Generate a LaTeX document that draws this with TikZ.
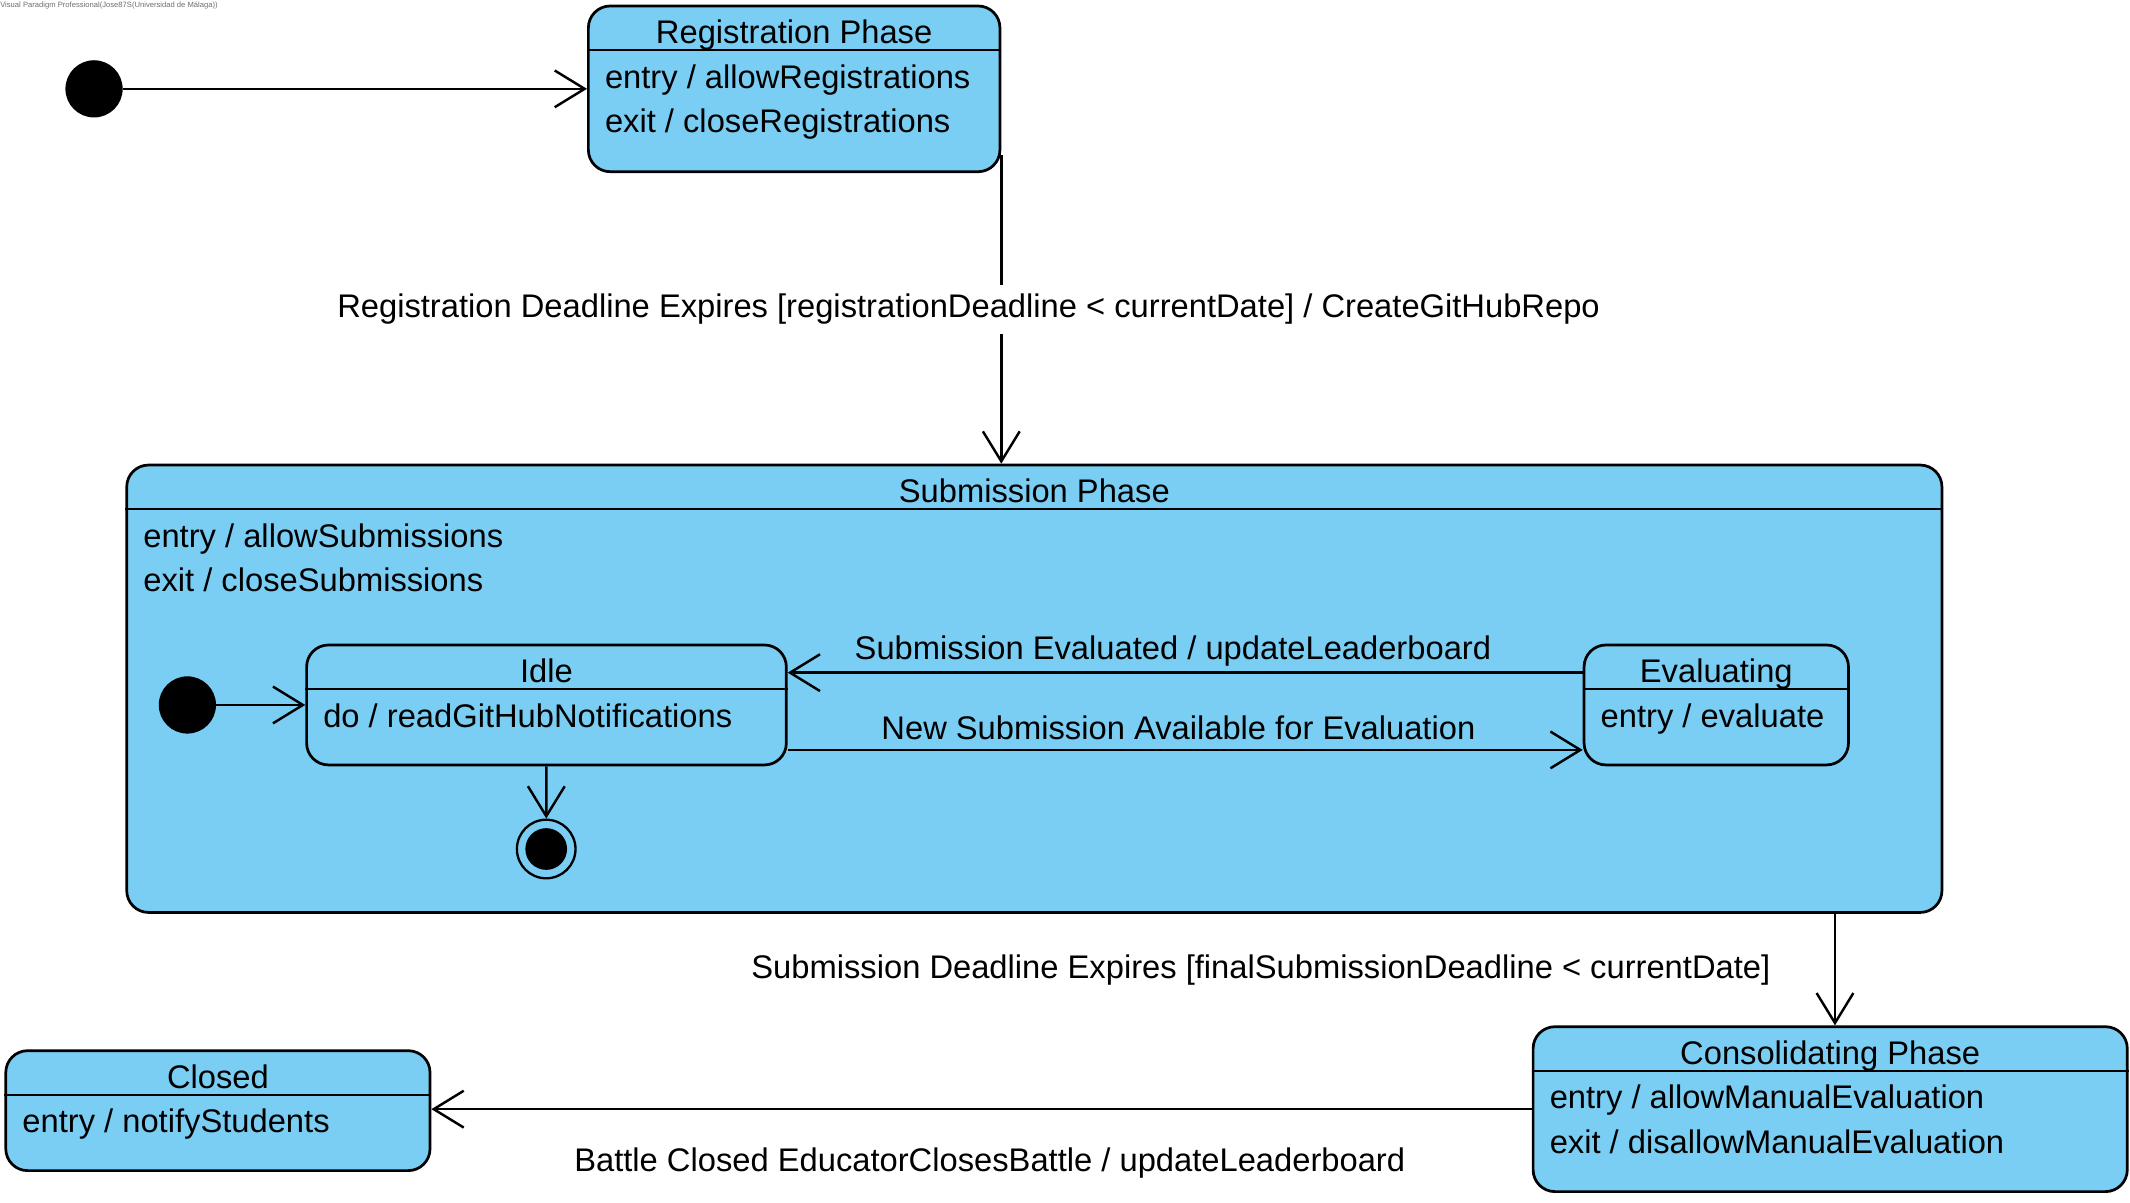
\documentclass[tikz,border=0pt]{standalone}
\usepackage{fontspec}
\setmainfont{Liberation Sans}
\usetikzlibrary{arrows.meta}
\definecolor{stateblue}{RGB}{122,206,244}
\definecolor{markgray}{RGB}{110,110,110}

\begin{document}
\begin{tikzpicture}[x=1pt, y=-1pt, font=\fontsize{24}{29}\selectfont,
statebox/.style={draw, line width=2pt, rounded corners=16pt, fill=stateblue, inner sep=0pt},
divider/.style={line width=1.3pt},
statetitle/.style={anchor=base, inner sep=0pt},
act/.style={anchor=base west, inner sep=0pt},
initstate/.style={circle, fill=black, minimum size=42pt, inner sep=0pt},
finalstate/.style={circle, draw, line width=1.7pt, fill=stateblue, minimum size=43pt, inner sep=0pt,
  path picture={\fill[black] (path picture bounding box.center) circle (15.3pt);}},
trans/.style={line width=1.8pt, -{Straight Barb[length=22pt, width=27pt]}},
guard/.style={inner sep=0pt, text height=17.5pt, text depth=5pt}]
\useasboundingbox (0,0) rectangle (1563,882.7);

\node[anchor=north west, inner sep=0pt, text=markgray, font=\fontsize{5.6}{6.5}\selectfont] (mark) at (0,1.5) {Visual Paradigm Professional(Jose87S(Universidad de Málaga))};

% states
\node[statebox, minimum width=302pt, minimum height=121.6pt] (reg) at (582.75,65.2) {};
\node[statebox, minimum width=1332pt, minimum height=328.3pt] (sub) at (759,505.4) {};
\node[statebox, minimum width=352pt, minimum height=88pt] (idle) at (401,517.3) {};
\node[statebox, minimum width=194pt, minimum height=88pt] (eval) at (1259.4,517.3) {};
\node[statebox, minimum width=436pt, minimum height=121pt] (cons) at (1343,813.9) {};
\node[statebox, minimum width=311.3pt, minimum height=88pt] (closed) at (159.9,815) {};

\draw[divider] ([yshift=-33.5pt]reg.north west) -- ([yshift=-33.5pt]reg.north east);
\draw[divider] ([yshift=-33.5pt]sub.north west) -- ([yshift=-33.5pt]sub.north east);
\draw[divider] ([yshift=-33.5pt]idle.north west) -- ([yshift=-33.5pt]idle.north east);
\draw[divider] ([yshift=-33.5pt]eval.north west) -- ([yshift=-33.5pt]eval.north east);
\draw[divider] ([yshift=-33.5pt]cons.north west) -- ([yshift=-33.5pt]cons.north east);
\draw[divider] ([yshift=-33.5pt]closed.north west) -- ([yshift=-33.5pt]closed.north east);

% texts
\node[statetitle] (reg_title) at ([yshift=-28.4pt]reg.north) {Registration Phase};
\node[act] (reg_entry) at ([xshift=13pt,yshift=-61.2pt]reg.north west) {entry / allowRegistrations};
\node[act] (reg_exit) at ([xshift=13pt,yshift=-93.7pt]reg.north west) {exit / closeRegistrations};
\node[statetitle] (sub_title) at ([yshift=-28.4pt]sub.north) {Submission Phase};
\node[act] (sub_entry) at ([xshift=13pt,yshift=-61.2pt]sub.north west) {entry / allowSubmissions};
\node[act] (sub_exit) at ([xshift=13pt,yshift=-93.7pt]sub.north west) {exit / closeSubmissions};
\node[statetitle] (idle_title) at ([yshift=-28.4pt]idle.north) {Idle};
\node[act] (idle_do) at ([xshift=13pt,yshift=-61.2pt]idle.north west) {do / readGitHubNotifications};
\node[statetitle] (eval_title) at ([yshift=-28.4pt]eval.north) {Evaluating};
\node[act] (eval_entry) at ([xshift=13pt,yshift=-61.2pt]eval.north west) {entry / evaluate};
\node[statetitle] (cons_title) at ([yshift=-28.4pt]cons.north) {Consolidating Phase};
\node[act] (cons_entry) at ([xshift=13pt,yshift=-61.2pt]cons.north west) {entry / allowManualEvaluation};
\node[act] (cons_exit) at ([xshift=13pt,yshift=-93.7pt]cons.north west) {exit / disallowManualEvaluation};
\node[statetitle] (closed_title) at ([yshift=-28.4pt]closed.north) {Closed};
\node[act] (closed_entry) at ([xshift=13pt,yshift=-61.2pt]closed.north west) {entry / notifyStudents};

% pseudo states
\node[initstate] (start) at (69,65.2) {};
\node[initstate] (sub_start) at (137.5,517.3) {};
\node[finalstate] (sub_end) at (400.8,623) {};

\path[trans]
(start) edge (reg)
([yshift=13.4pt]reg.south east) edge node[guard, fill=white, inner ysep=6.75pt, xshift=-24pt] {Registration Deadline Expires [registrationDeadline < currentDate] / CreateGitHubRepo} (reg.south east |- sub.north)
(sub_start) edge (idle)
(idle) edge (sub_end)
([yshift=23.7pt]eval.west) edge node[guard, above=4pt, xshift=-9pt] {Submission Evaluated / updateLeaderboard} ([yshift=23.7pt]eval.west -| idle.east)
([yshift=-33pt]idle.east) edge node[guard, above=2pt, xshift=-5pt] {New Submission Available for Evaluation} ([yshift=-33pt]idle.east -| eval.west)
([xshift=3.5pt]cons.north |- sub.south) edge node[guard, left=46.5pt] {Submission Deadline Expires [finalSubmissionDeadline < currentDate]} ([xshift=3.5pt]cons.north)
(cons.west) edge node[guard, below=27.5pt, xshift=6pt] {Battle Closed EducatorClosesBattle / updateLeaderboard} (cons.west -| closed.east);

\end{tikzpicture}
\end{document}
